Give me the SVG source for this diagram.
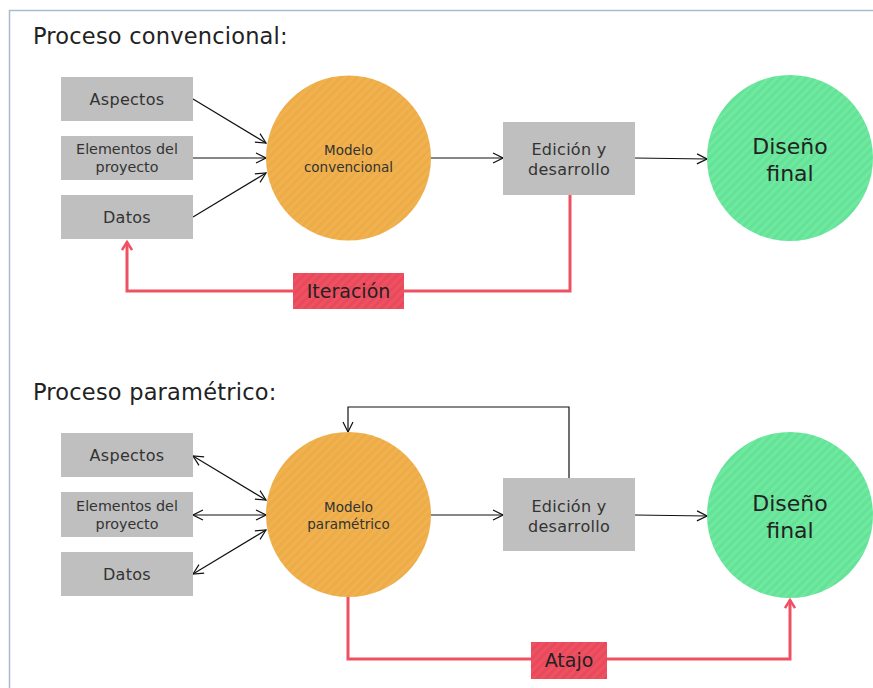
<svg xmlns="http://www.w3.org/2000/svg" width="873" height="688" viewBox="0 0 873 688">
<style>
text{font-family:"DejaVu Sans","Liberation Sans",sans-serif;fill:#333;text-anchor:middle}
.title{font-size:22.5px;text-anchor:start;fill:#222;letter-spacing:0.2px}
.box{fill:#bfbfbf}
.lbl{font-size:16px;letter-spacing:0.3px}
.lbl2{font-size:14.3px}
.mod{font-size:13.5px}
.big{font-size:22px;fill:#222}
.red{font-size:19px;fill:#222}
.conn{stroke:#111;stroke-width:1.2;fill:none}
.rline{stroke:#ee5262;stroke-width:3;fill:none}
</style>
<defs>
<pattern id="so" width="6" height="6" patternUnits="userSpaceOnUse" patternTransform="rotate(45)">
<rect width="6" height="6" fill="#f0b24f"/><rect width="3" height="6" fill="#eeac48"/>
</pattern>
<pattern id="sg" width="6" height="6" patternUnits="userSpaceOnUse" patternTransform="rotate(45)">
<rect width="6" height="6" fill="#6ee9a0"/><rect width="3" height="6" fill="#66e298"/>
</pattern>
<pattern id="sr" width="6" height="6" patternUnits="userSpaceOnUse" patternTransform="rotate(45)">
<rect width="6" height="6" fill="#ee5262"/><rect width="3" height="6" fill="#e84a5b"/>
</pattern>
<marker id="ah" viewBox="0 0 12 12" refX="11" refY="6" markerWidth="12" markerHeight="12" markerUnits="userSpaceOnUse" orient="auto-start-reverse">
<path d="M1,1 L11,6 L1,11" fill="none" stroke="#111" stroke-width="1.2"/>
</marker>
<marker id="rh" viewBox="0 0 12 12" refX="10" refY="6" markerWidth="12" markerHeight="12" markerUnits="userSpaceOnUse" orient="auto">
<path d="M2,1 L10,6 L2,11" fill="none" stroke="#ee5262" stroke-width="2.5"/>
</marker>
</defs>
<rect width="873" height="688" fill="#fff"/>
<path d="M9.5,688 V10.5 H873" fill="none" stroke="#a9bccd" stroke-width="1.5"/>

<text class="title" x="33" y="44">Proceso convencional:</text>
<text class="title" x="33" y="400">Proceso paramétrico:</text>

<g id="connectors">
<line class="conn" x1="193" y1="99" x2="266" y2="143" marker-end="url(#ah)"/>
<line class="conn" x1="193" y1="158" x2="266" y2="158" marker-end="url(#ah)"/>
<line class="conn" x1="193" y1="217" x2="266" y2="173" marker-end="url(#ah)"/>
<line class="conn" x1="431" y1="158" x2="503" y2="158" marker-end="url(#ah)"/>
<line class="conn" x1="635" y1="158" x2="707" y2="159" marker-end="url(#ah)"/>
<polyline class="rline" points="570,195 570,291 127,291 127,242" marker-end="url(#rh)"/>

<line class="conn" x1="193" y1="456" x2="266" y2="500" marker-start="url(#ah)" marker-end="url(#ah)"/>
<line class="conn" x1="193" y1="515" x2="266" y2="515" marker-start="url(#ah)" marker-end="url(#ah)"/>
<line class="conn" x1="193" y1="574" x2="266" y2="530" marker-start="url(#ah)" marker-end="url(#ah)"/>
<line class="conn" x1="431" y1="515" x2="503" y2="515" marker-end="url(#ah)"/>
<line class="conn" x1="635" y1="515" x2="707" y2="516" marker-end="url(#ah)"/>
<polyline class="conn" points="569,478 569,407 348,407 348,432" marker-end="url(#ah)"/>
<polyline class="rline" points="348,597 348,659 790,659 790,600" marker-end="url(#rh)"/>
</g>

<g id="aspectos1"><rect class="box" x="61" y="77" width="132" height="44"/><text class="lbl" x="127" y="105">Aspectos</text></g>
<g id="elementos1"><rect class="box" x="61" y="136" width="132" height="44"/><text class="lbl2" x="127" y="154">Elementos del</text><text class="lbl2" x="127" y="172">proyecto</text></g>
<g id="datos1"><rect class="box" x="61" y="195" width="132" height="44"/><text class="lbl" x="127" y="223">Datos</text></g>
<g id="modelo1"><circle cx="348.5" cy="158" r="82.5" fill="url(#so)"/><text class="mod" x="348.5" y="155">Modelo</text><text class="mod" x="348.5" y="172">convencional</text></g>
<g id="edicion1"><rect class="box" x="503" y="122" width="132" height="73"/><text class="lbl" x="569" y="155">Edición y</text><text class="lbl" x="569" y="175">desarrollo</text></g>
<g id="diseno1"><circle cx="790" cy="158" r="83" fill="url(#sg)"/><text class="big" x="790" y="154">Diseño</text><text class="big" x="790" y="181">final</text></g>
<g id="iteracion"><rect x="293" y="273" width="111" height="36" fill="url(#sr)"/><text class="red" x="348.5" y="298">Iteración</text></g>

<g id="aspectos2"><rect class="box" x="61" y="433" width="132" height="44"/><text class="lbl" x="127" y="461">Aspectos</text></g>
<g id="elementos2"><rect class="box" x="61" y="492" width="132" height="45"/><text class="lbl2" x="127" y="511">Elementos del</text><text class="lbl2" x="127" y="529">proyecto</text></g>
<g id="datos2"><rect class="box" x="61" y="552" width="132" height="44"/><text class="lbl" x="127" y="580">Datos</text></g>
<g id="modelo2"><circle cx="348.5" cy="514.5" r="82.5" fill="url(#so)"/><text class="mod" x="348.5" y="512">Modelo</text><text class="mod" x="348.5" y="529">paramétrico</text></g>
<g id="edicion2"><rect class="box" x="503" y="478" width="132" height="73"/><text class="lbl" x="569" y="512">Edición y</text><text class="lbl" x="569" y="532">desarrollo</text></g>
<g id="diseno2"><circle cx="790" cy="515" r="83" fill="url(#sg)"/><text class="big" x="790" y="511">Diseño</text><text class="big" x="790" y="538">final</text></g>
<g id="atajo"><rect x="531" y="642" width="76" height="37" fill="url(#sr)"/><text class="red" x="569" y="667">Atajo</text></g>
</svg>
